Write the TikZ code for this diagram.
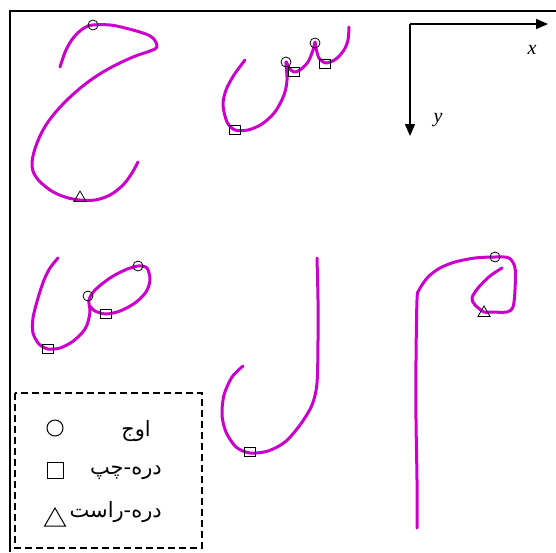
\documentclass[tikz,border=0pt]{standalone}
\usepackage{fontspec}
\setmainfont{Liberation Serif}
\newfontfamily\arabicfont[Script=Arabic]{DejaVu Sans}
\TeXXeTstate=1
\usetikzlibrary{positioning, shapes.geometric, arrows.meta}
\definecolor{inkpurple}{RGB}{204,0,204}
\tikzset{
  ink/.style={draw=inkpurple, line width=3pt, line cap=round, line join=round},
  peak/.style={circle, draw, line width=0.8pt, minimum size=10pt, inner sep=0pt},
  lvalley/.style={rectangle, draw, line width=0.8pt, minimum width=11pt, minimum height=9pt, inner sep=0pt},
  rvalley/.style={regular polygon, regular polygon sides=3, draw, line width=0.8pt, minimum size=14pt, inner sep=0pt},
  legtext/.style={font=\arabicfont\fontsize{21}{24}\selectfont, inner sep=0pt, anchor=east}
}

\begin{document}
\begin{tikzpicture}[x=1pt, y=-1pt]
        \useasboundingbox (0,0) rectangle (556,552);

        % Frame
        \draw[line width=2.2pt] (10,552) -- (10,11) -- (556,11);

        % Axes
        \coordinate (o) at (410,24);
        \coordinate (xe) at (548,24);
        \coordinate (ye) at (410,136);
        \draw[line width=1.5pt, -{Triangle[length=12pt, width=10pt]}] (o) -- (xe);
        \draw[line width=1.5pt, -{Triangle[length=12pt, width=10pt]}] (o) -- (ye);
        \node (xlab) at (532,50) {\fontsize{20}{22}\selectfont\itshape x};
        \node (ylab) at (438,120) {\fontsize{20}{22}\selectfont\itshape y};

        % Letter hah
        \draw[ink] plot[smooth, tension=0.6] coordinates {(60,67) (66,50) (74,37) (84,28) (93,25)
          (110,25) (125,28) (143,33) (153,38) (157,47) (150,51) (133,57) (110,68) (88,82)
          (66,101) (48,122) (37,143) (32,163) (36,177) (50,190) (65,197) (80,200)
          (95,200) (110,195) (123,185) (132,173) (138,162)};
        \node[peak] (hahpeak) at (93,25) {};
        \node[rvalley] (hahright) at (80,198) {};

        % Letter seen
        \draw[ink] plot[smooth, tension=0.5] coordinates {(349,27) (348,40) (344,50) (336,59)
          (326,63) (319,58) (316,48) (315,42) (313,50) (308,62) (300,70) (294,72) (289,68)
          (286,62) (287,80) (284,95) (275,112) (262,124) (248,130) (235,130) (227,122)
          (223,105) (226,90) (234,75) (245,60)};
        \node[peak] (seenpeaka) at (286,62) {};
        \node[peak] (seenpeakb) at (315,43) {};
        \node[lvalley] (seenlefta) at (294,72) {};
        \node[lvalley] (seenleftb) at (325,64) {};
        \node[lvalley] (seenleftc) at (235,130) {};

        % Letter sad
        \draw[ink] plot[smooth, tension=0.5] coordinates {(58,258) (50,268) (44,280) (38,298)
          (33,318) (33,333) (39,344) (48,349) (60,348) (72,342) (82,333) (87,325) (90,312)
          (89,300) (95,290) (110,278) (125,270) (138,266) (147,268) (150,280) (146,292)
          (135,303) (120,311) (106,314) (95,311) (90,306)};
        \node[peak] (sadpeaka) at (88,296) {};
        \node[peak] (sadpeakb) at (138,266) {};
        \node[lvalley] (sadlefta) at (106,314) {};
        \node[lvalley] (sadleftb) at (48,349) {};

        % Letter lam
        \draw[ink] plot[smooth, tension=0.5] coordinates {(317,258) (318,300) (318,340)
          (317,383) (312,405) (300,425) (285,442) (268,451) (250,453) (236,447) (226,432)
          (222,415) (224,395) (232,377) (243,366)};
        \node[lvalley] (lamleft) at (250,452) {};

        % Letter meem
        \draw[ink] plot[smooth, tension=0.5] coordinates {(417,528) (417,480) (416,420)
          (416,360) (417,300) (419,290) (428,277) (440,268) (455,262) (475,258) (495,257)
          (509,258) (515,268) (515,290) (513,307) (507,312) (490,312) (484,312) (475,305)
          (472,298) (478,288) (490,276) (502,268)};
        \node[peak] (meempeak) at (495,257) {};
        \node[rvalley] (meemright) at (484,313) {};

        % Legend
        \draw[line width=1.5pt, dash pattern=on 7pt off 4pt] (15,393) rectangle (202,548);
        \node[circle, draw, line width=1pt, minimum size=16pt, inner sep=0pt] (legpeak) at (55,428) {};
        \node[rectangle, draw, line width=1pt, minimum size=16pt, inner sep=0pt] (legleft) at (55,470) {};
        \node[regular polygon, regular polygon sides=3, draw, line width=1pt, minimum size=24pt, inner sep=0pt] (legright) at (55,520) {};
        \node[legtext] (peaktext) at (151,431) {\beginR اوج\endR};
        \node[legtext] (lefttext) at (162,473) {\beginR دره-چپ\endR};
        \node[legtext] (righttext) at (162,512) {\beginR دره-راست\endR};
      \end{tikzpicture}
\end{document}
